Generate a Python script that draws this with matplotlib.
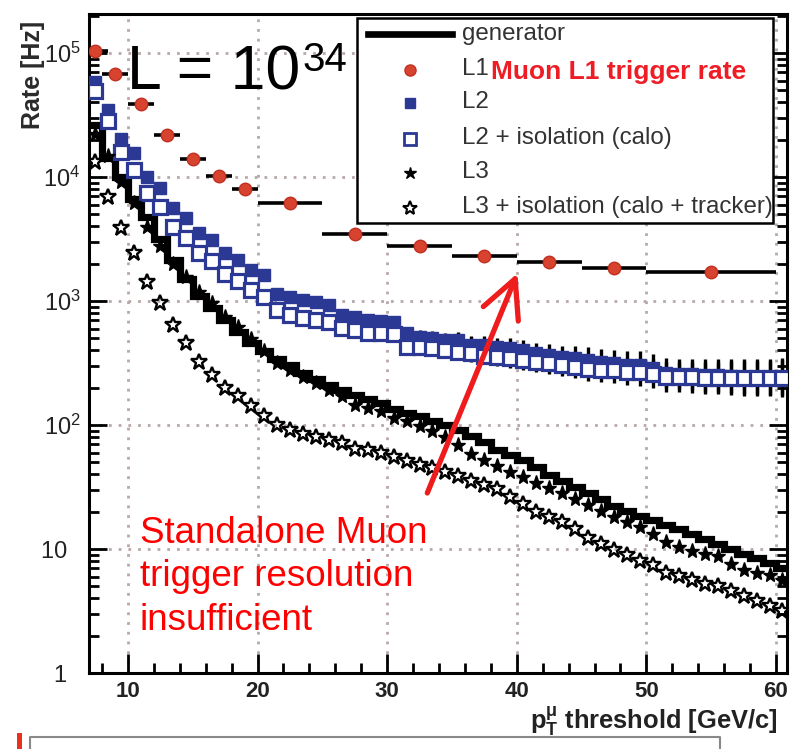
import numpy as np
import matplotlib
matplotlib.use('Agg')
import matplotlib.pyplot as plt
from matplotlib.lines import Line2D
from matplotlib.patches import Rectangle
from matplotlib.ticker import FixedLocator, FuncFormatter, NullFormatter, LogLocator

plt.rcParams['font.family'] = ['Liberation Sans', 'DejaVu Sans']
plt.rcParams['mathtext.fontset'] = 'custom'
plt.rcParams['mathtext.rm'] = 'Liberation Sans'
plt.rcParams['mathtext.it'] = 'Liberation Sans:italic'
plt.rcParams['mathtext.bf'] = 'Liberation Sans:bold'

# ---------------- data ----------------
# 1 GeV bins of the pT threshold
pt_edges = [7, 8, 9, 10, 11, 12, 13, 14, 15, 16, 17, 18, 19, 20, 21, 22, 23, 24, 25, 26,
            27, 28, 29, 30, 31, 32, 33, 34, 35, 36, 37, 38, 39, 40, 41, 42, 43, 44, 45, 46,
            47, 48, 49, 50, 51, 52, 53, 54, 55, 56, 57, 58, 59, 60, 61]

# rates given as log10(rate / Hz)
gen_log10 = [4.42, 4.15, 4.00, 3.82, 3.68, 3.50, 3.33, 3.18, 3.04, 2.94,
             2.85, 2.75, 2.66, 2.60, 2.53, 2.48, 2.42, 2.37, 2.32, 2.28,
             2.24, 2.21, 2.18, 2.13, 2.10, 2.07, 2.03, 2.00, 1.96, 1.91,
             1.86, 1.80, 1.76, 1.72, 1.66, 1.60, 1.55, 1.50, 1.45, 1.40,
             1.35, 1.31, 1.27, 1.23, 1.19, 1.16, 1.12, 1.08, 1.04, 1.00,
             0.96, 0.93, 0.89, 0.85]

l2_log10 = [4.77, 4.54, 4.31, 4.19, 4.00, 3.91, 3.75, 3.67, 3.55, 3.49,
            3.385, 3.33, 3.25, 3.21, 3.06, 3.035, 3.01, 2.99, 2.97, 2.89,
            2.87, 2.85, 2.84, 2.83, 2.74, 2.71, 2.70, 2.685, 2.685, 2.645,
            2.645, 2.63, 2.62, 2.605, 2.58, 2.565, 2.55, 2.54, 2.525, 2.51,
            2.50, 2.485, 2.485, 2.46, 2.42, 2.41, 2.41, 2.40, 2.40, 2.395,
            2.39, 2.39, 2.39, 2.39]

l2iso_log10 = [4.69, 4.45, 4.20, 4.06, 3.87, 3.76, 3.60, 3.51, 3.385, 3.32,
               3.22, 3.16, 3.09, 3.035, 2.93, 2.89, 2.86, 2.85, 2.83, 2.78,
               2.77, 2.74, 2.74, 2.73, 2.63, 2.63, 2.62, 2.605, 2.59, 2.58,
               2.56, 2.55, 2.54, 2.525, 2.51, 2.50, 2.485, 2.47, 2.455, 2.445,
               2.44, 2.43, 2.425, 2.415, 2.39, 2.385, 2.385, 2.38, 2.38, 2.38,
               2.375, 2.375, 2.375, 2.375]

# half-length of the L2 error bars, in decades
l2_err_dec = [0.01, 0.01, 0.01, 0.01, 0.01, 0.01, 0.01, 0.01, 0.01, 0.01,
              0.01, 0.01, 0.01, 0.01, 0.02, 0.02, 0.02, 0.02, 0.02, 0.02,
              0.02, 0.02, 0.02, 0.045, 0.05, 0.055, 0.06, 0.06, 0.065, 0.07,
              0.07, 0.075, 0.08, 0.08, 0.085, 0.09, 0.09, 0.095, 0.10, 0.10,
              0.105, 0.11, 0.11, 0.115, 0.12, 0.12, 0.125, 0.13, 0.13, 0.135,
              0.14, 0.14, 0.145, 0.15]

l3_log10 = [4.35, 4.17, 3.96, 3.79, 3.60, 3.44, 3.30, 3.19, 3.07, 2.98,
            2.87, 2.79, 2.69, 2.60, 2.50, 2.44, 2.39, 2.34, 2.28, 2.23,
            2.16, 2.135, 2.11, 2.055, 2.03, 1.99, 1.95, 1.905, 1.84, 1.77,
            1.72, 1.67, 1.62, 1.58, 1.53, 1.49, 1.45, 1.40, 1.355, 1.31,
            1.26, 1.22, 1.18, 1.12, 1.06, 1.02, 0.98, 0.96, 0.94, 0.88,
            0.83, 0.81, 0.79, 0.75]

l3iso_log10 = [4.12, 3.84, 3.59, 3.385, 3.156, 2.98, 2.806, 2.66, 2.51, 2.40,
               2.30, 2.23, 2.15, 2.07, 2.00, 1.96, 1.93, 1.906, 1.879, 1.852,
               1.81, 1.80, 1.772, 1.744, 1.71, 1.68, 1.65, 1.62, 1.59, 1.55,
               1.52, 1.48, 1.42, 1.36, 1.30, 1.26, 1.22, 1.16, 1.09, 1.04,
               0.99, 0.95, 0.90, 0.87, 0.81, 0.78, 0.75, 0.72, 0.70, 0.66,
               0.62, 0.58, 0.54, 0.50]

# L1 points with their bin half-widths
l1_pt = [7.5, 9, 11, 13, 15, 17, 19, 22.5, 27.5, 32.5, 37.5, 42.5, 47.5, 55]
l1_halfwidth = [1.0, 1, 1, 1, 1, 1, 1, 2.5, 2.5, 2.5, 2.5, 2.5, 2.5, 5]
l1_rate = [1.04e5, 6.8e4, 3.9e4, 2.2e4, 1.4e4, 1.02e4, 8.0e3, 6.2e3,
           3.5e3, 2.8e3, 2.3e3, 2.05e3, 1.85e3, 1.7e3]

x_ticks = [10, 20, 30, 40, 50, 60]
legend_labels = ['generator', 'L1', 'L2', 'L2 + isolation (calo)', 'L3',
                 'L3 + isolation (calo + tracker)']

# ---------------- figure ----------------
W, H = 798, 749
fig = plt.figure(figsize=(W / 100, H / 100), dpi=100)
L, R, T, B = 89, 787, 14, 673
ax = fig.add_axes([L / W, 1 - B / H, (R - L) / W, (B - T) / H])

edges = np.array(pt_edges, dtype=float)
xc = 0.5 * (edges[:-1] + edges[1:])
gen = 10 ** np.array(gen_log10)
l2 = 10 ** np.array(l2_log10)
l2i = 10 ** np.array(l2iso_log10)
l3 = 10 ** np.array(l3_log10)
l3i = 10 ** np.array(l3iso_log10)
ed = np.array(l2_err_dec)

blue = '#2b3994'
red = '#d8432f'

ax.stairs(gen, edges, color='black', lw=5.2, baseline=None, zorder=3)

for yy in (l2, l2i):
    yerr = np.vstack([yy - yy * 10 ** (-ed), yy * 10 ** ed - yy])
    ax.errorbar(xc, yy, yerr=yerr, fmt='none', ecolor='black', elinewidth=2.4,
                capsize=0, zorder=3.5)

ax.plot(xc, l2, 's', color=blue, ms=9, mec=blue, zorder=4)
ax.plot(xc, l2i, 's', mfc='white', mec=blue, mew=2.3, ms=10, zorder=4.2)
ax.plot(xc, l3, '*', color='black', ms=11, zorder=4.5)
ax.plot(xc, l3i, '*', mfc='none', mec='black', mew=1.7, ms=12, zorder=4.6)

ax.errorbar(l1_pt, l1_rate, xerr=l1_halfwidth, fmt='o', mfc=red, mec='#c03020',
            ms=9, ecolor='black', elinewidth=2.6, capsize=0, zorder=5)

ax.set_yscale('log')
ax.set_xlim(7, 60.85)
ax.set_ylim(1, 10 ** ((B - T) / 124.0))

ax.xaxis.set_major_locator(FixedLocator(x_ticks))
ax.xaxis.set_minor_locator(FixedLocator([v for v in range(8, 61, 2) if v % 10 != 0]))
ax.yaxis.set_major_locator(LogLocator(base=10, numticks=20))
ax.yaxis.set_minor_locator(LogLocator(base=10, subs=np.arange(2, 10), numticks=20))
ax.yaxis.set_minor_formatter(NullFormatter())


def yfmt(v, pos):
    e = int(round(np.log10(v)))
    if e == 0:
        return '1  '
    if e == 1:
        return '10  '
    return r'$\mathregular{10^{%d}}$' % e


ax.yaxis.set_major_formatter(FuncFormatter(yfmt))

ax.tick_params(axis='x', which='major', direction='in', length=14, width=2,
               labelsize=16, pad=6, top=False, labelcolor='#222222')
ax.tick_params(axis='x', which='minor', direction='in', length=7, width=2, top=False)
ax.tick_params(axis='y', which='major', direction='in', length=13, width=2,
               labelsize=17, pad=6, right=True, labelcolor='#222222')
ax.tick_params(axis='y', which='minor', direction='in', length=7, width=2, right=True)
for lab in ax.get_xticklabels():
    lab.set_fontweight('bold')

ax.grid(True, which='major', color='#b8a8a8', linestyle=(0, (1, 2.5)), lw=2.0)
ax.set_axisbelow(True)
for s in ax.spines.values():
    s.set_linewidth(2.2)

# axis titles
fig.text(33 / W, 1 - 21 / H, 'Rate [Hz]', rotation=90, ha='center', va='top',
         fontsize=18, fontweight='bold', color='#2a2a2a')
fig.text(778 / W, 1 - 729 / H, r'$\mathbf{p_{T}^{\mu}}$ threshold [GeV/c]',
         ha='right', va='baseline', fontsize=18.4, fontweight='bold', color='#222222')

# luminosity label
fig.text(127 / W, 1 - 90 / H, 'L = 10', fontsize=45, va='baseline', color='black')
fig.text(302 / W, 1 - 71 / H, '34', fontsize=29, va='baseline', color='black')

# legend (drawn by hand to match the boxed layout)
def fx(px):
    return px / W


def fy(py):
    return 1 - py / H


box = Rectangle((fx(357), fy(223)), fx(773) - fx(357), fy(18) - fy(223),
                transform=fig.transFigure, facecolor='white', edgecolor='black',
                lw=1.8, zorder=10)
fig.add_artist(box)
rows = [35, 70, 103, 139, 173, 208]
fig.add_artist(Line2D([fx(368), fx(452)], [fy(34), fy(34)], transform=fig.transFigure,
                      color='black', lw=4.8, zorder=11))
mx = fx(410)
fig.add_artist(Line2D([mx], [fy(rows[1])], transform=fig.transFigure, marker='o',
                      ms=8, mfc=red, mec='#c03020', ls='none', zorder=11))
fig.add_artist(Line2D([mx], [fy(rows[2])], transform=fig.transFigure, marker='s',
                      ms=7, color=blue, ls='none', zorder=11))
fig.add_artist(Line2D([mx], [fy(rows[3])], transform=fig.transFigure, marker='s',
                      ms=8, mfc='white', mec=blue, mew=2.0, ls='none', zorder=11))
fig.add_artist(Line2D([mx], [fy(rows[4])], transform=fig.transFigure, marker='*',
                      ms=9, color='black', ls='none', zorder=11))
fig.add_artist(Line2D([mx], [fy(rows[5])], transform=fig.transFigure, marker='*',
                      ms=10, mfc='none', mec='black', mew=1.5, ls='none', zorder=11))
for r, lab in zip(rows, legend_labels):
    fig.text(fx(462), fy(r - 1), lab, fontsize=17.4, color='#333333', va='center',
             ha='left', zorder=12)
fig.text(fx(491), fy(72), 'Muon L1 trigger rate', fontsize=19, fontweight='bold',
         color='#ee1c25', va='center', ha='left', zorder=12)

# annotation
ax.annotate('', xy=(40.05, 1672), xytext=(33.1, 28.3),
            arrowprops=dict(arrowstyle='->', color='#ee1c1c', lw=3.8,
                            mutation_scale=68, shrinkA=0, shrinkB=0), zorder=8)
for base, line in zip([543, 586.5, 630],
                      ['Standalone Muon', 'trigger resolution', 'insufficient']):
    fig.text(fx(140), fy(base), line, fontsize=26.5, color='#ff0000', va='baseline')

# remnant of the next slide element at the bottom edge
fig.add_artist(Line2D([fx(30), fx(30), fx(720), fx(720)],
                      [fy(749), fy(737), fy(737), fy(749)],
                      transform=fig.transFigure, color='#888888', lw=1.5))
fig.add_artist(Rectangle((fx(17), fy(749)), fx(5), fy(733) - fy(749),
                         transform=fig.transFigure, facecolor='#e8321e',
                         edgecolor='none'))

fig.savefig('out.png', dpi=100)
